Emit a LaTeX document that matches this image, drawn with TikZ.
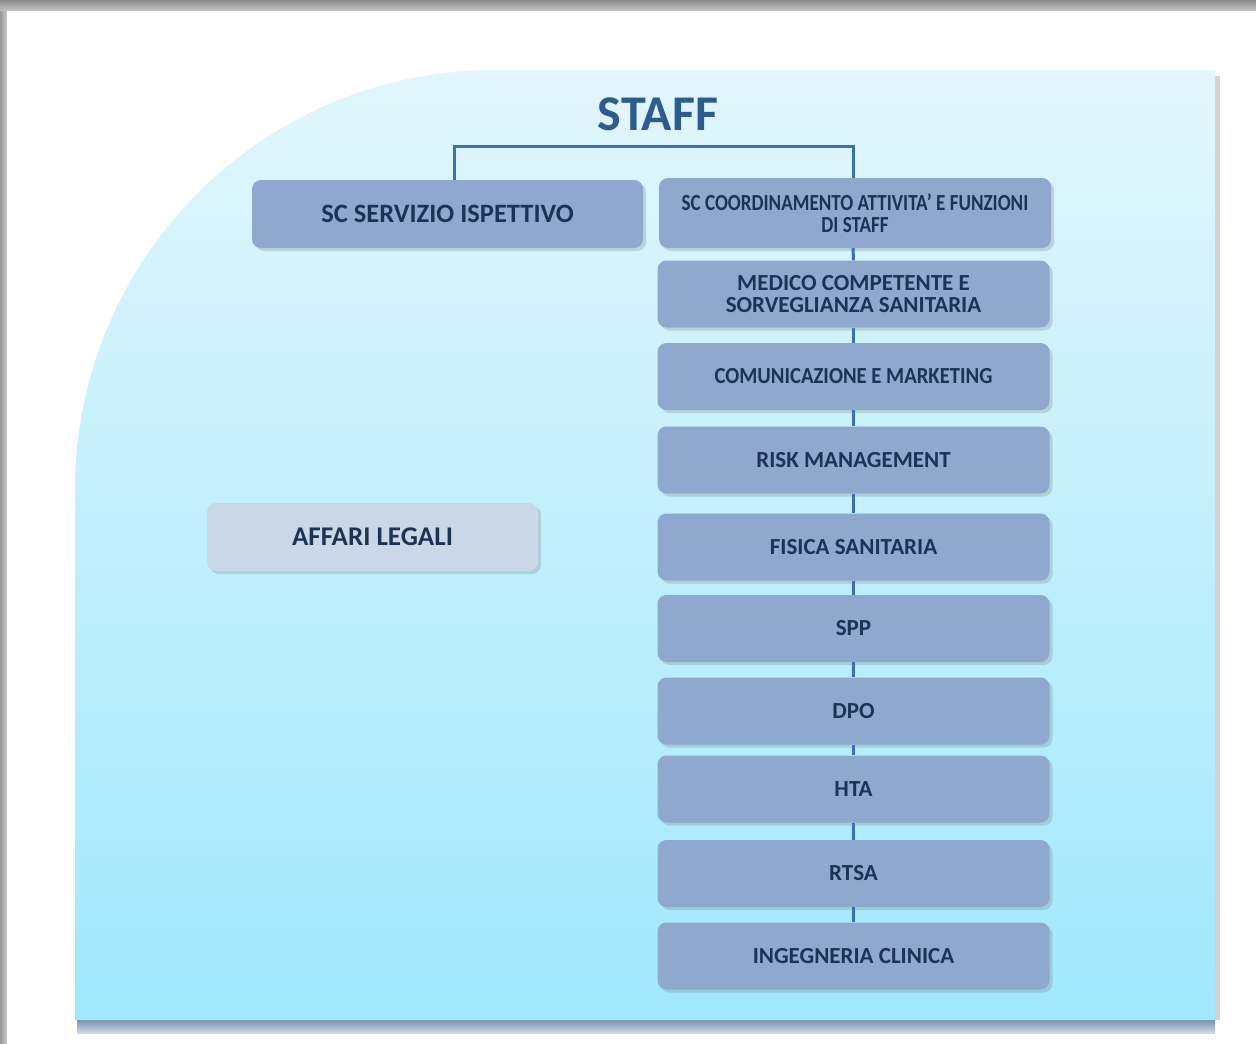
\documentclass[tikz,border=0pt]{standalone}
\usepackage{fontspec}
\setmainfont{Carlito}
\usepackage{graphicx}
\usetikzlibrary{shadows,positioning}

\definecolor{boxblue}{HTML}{8EA9CD}
\definecolor{boxlight}{HTML}{C9D7E6}
\definecolor{boxtext}{HTML}{1C3354}
\definecolor{titleblue}{HTML}{2F5C8F}
\definecolor{linkblue}{HTML}{3E6FB2}
\definecolor{panetop}{HTML}{E2F6FC}
\definecolor{panebot}{HTML}{A0E8FD}
\definecolor{paneshade}{HTML}{446A94}

\tikzset{
  unit/.style={rectangle, rounded corners=9pt, fill=boxblue, minimum width=392pt,
    minimum height=67pt, inner sep=0pt, text=boxtext, align=center,
    font=\fontsize{23}{22}\selectfont\bfseries,
    drop shadow={shadow xshift=3pt, shadow yshift=-3pt, opacity=.28}},
  link/.style={draw=linkblue, line width=3pt},
}

\begin{document}
\begin{tikzpicture}
  [
    x=1pt, y=-1pt,
  ]
    \useasboundingbox (0,0) rectangle (1256,1044);

    % frame
    \fill [gray!70] (0,0) rectangle (1256,1044);
    \shade [top color=gray!90, bottom color=gray!45] (0,0) rectangle (1256,11);
    \shade [left color=gray!80, right color=gray!40] (0,11) rectangle (7,1044);
    \fill [white] (7,11) rectangle (1256,1044);

    % panel
    \shade [top color=paneshade, bottom color=paneshade!25!white] (77,1012) rectangle (1215,1033);
    \fill [gray!35] (1213,76) rectangle (1220,1020);
    \shade [top color=panetop, bottom color=panebot]
      (75,1020) -- (75,490) .. controls (75,258) and (263,70) .. (495,70)
      -- (1215,70) -- (1215,1020) -- cycle;

    % title
    \node [text=titleblue, font=\fontsize{50}{50}\selectfont\bfseries] (staff) at (658,114) {STAFF};

    % left
    \node [unit, minimum width=391pt, minimum height=68pt, font=\fontsize{26.5}{26}\selectfont\bfseries] (isp) at (447.5,214) {SC SERVIZIO ISPETTIVO};
    \node [unit, fill=boxlight, minimum width=331pt, minimum height=68pt, font=\fontsize{27}{27}\selectfont\bfseries] (aff) at (372.5,537) {AFFARI LEGALI};

    % right
    \node [unit, minimum height=70pt] (coord) at (855,213)
      {\scalebox{.83}[1]{SC COORDINAMENTO ATTIVITA’ E FUNZIONI}\\\scalebox{.83}[1]{DI STAFF}};
    \foreach \n/\y/\t in {med/294/{MEDICO COMPETENTE E\\SORVEGLIANZA SANITARIA},
        com/376.5/{\scalebox{.9}[1]{COMUNICAZIONE E MARKETING}},
        risk/460/{RISK MANAGEMENT}, fis/547/{FISICA SANITARIA},
        spp/628.5/{SPP}, dpo/711/{DPO}, hta/789/{HTA}, rtsa/873.5/{RTSA},
        ing/956/{INGEGNERIA CLINICA}} {
      \node [unit] (\n) at (853.5,\y) {\t};
    }

    % links
    \draw [link] ([xshift=7pt]isp.north) -- ++(0,-33) -| ([xshift=-2pt]coord.north);
    \draw [link] ([xshift=-2pt]coord.south) -- (med.north);
    \foreach \a/\b in {med/com,com/risk,risk/fis,fis/spp,spp/dpo,dpo/hta,hta/rtsa,rtsa/ing} {
      \draw [link] (\a.south) -- (\b.north);
    }
  \end{tikzpicture}
\end{document}
